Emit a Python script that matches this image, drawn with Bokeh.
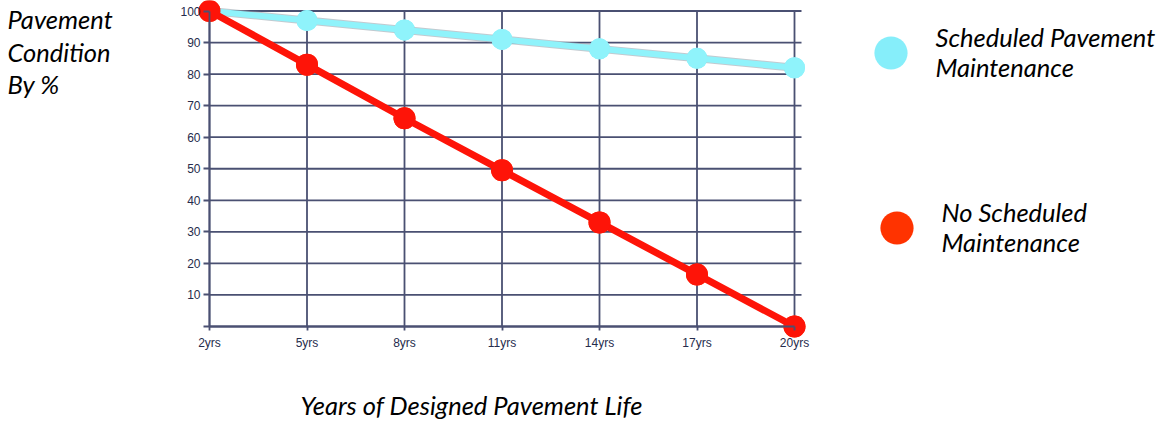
from bokeh.plotting import figure
from bokeh.models import Range1d, LinearAxis, FixedTicker, Label, Legend, LegendItem
from bokeh.embed import file_html
from bokeh.resources import INLINE

# ---- data ----
years = [2, 5, 8, 11, 14, 17, 20]
year_labels = ["2yrs", "5yrs", "8yrs", "11yrs", "14yrs", "17yrs", "20yrs"]
scheduled = [100, 97, 94, 91, 88, 85, 82]
no_scheduled = [100, 83, 66, 49.5, 33, 16.5, 0]
y_ticks = [0, 10, 20, 30, 40, 50, 60, 70, 80, 90, 100]
series_names = ["Scheduled Pavement\nMaintenance", "No Scheduled\nMaintenance"]
y_title = "Pavement\nCondition\nBy %"
x_title = "Years of Designed Pavement Life"

# ---- layout (figure pixels) ----
W, H = 1169, 422
FL, FR, FT, FB = 0, W, 0, H                 # frame box = whole figure
X_A, X_B = 209.0, 794.0                     # pixel of first / last year
Y_A, Y_B = 326.0, 10.5                      # pixel of y=0 / y=100
x0v, x1v = years[0], years[-1]
y0v, y1v = y_ticks[0], y_ticks[-1]
kx = (X_B - X_A) / (x1v - x0v)
ky = (Y_A - Y_B) / (y1v - y0v)
x_lo = x0v - (X_A - FL) / kx
x_hi = x1v + (FR - X_B) / kx
y_lo = y0v - (FB - Y_A) / ky
y_hi = y1v + (Y_B - FT) / ky


def fx(px):
    return x0v + (px - X_A) / kx


def fy(py):
    return y0v + (Y_A - py) / ky


GRID = "#4a5072"
TICK_TXT = "#262c4c"
CYAN = "#8ff3fb"
RED = "#fe1408"
FONT = "Lato"
FSIZE = "25.5px"

p = figure(width=W, height=H, x_range=Range1d(x_lo, x_hi), y_range=Range1d(y_lo, y_hi),
           output_backend="svg", toolbar_location=None,
           x_axis_type=None, y_axis_type=None,
           min_border_left=0, min_border_right=0, min_border_top=0, min_border_bottom=0)
p.outline_line_color = None
p.background_fill_color = "white"
p.border_fill_color = "white"

# grid lines from tick lists
grid_right = x1v + 7 / kx
p.segment(x0=years, y0=[y0v] * len(years), x1=years, y1=[y1v] * len(years),
          line_color=GRID, line_width=1.8)
p.segment(x0=[x0v] * len(y_ticks), y0=y_ticks, x1=[grid_right] * len(y_ticks), y1=y_ticks,
          line_color=GRID, line_width=1.8)

# axes
yaxis = LinearAxis(ticker=FixedTicker(ticks=y_ticks), fixed_location=x0v, bounds=(y0v, y1v),
                   major_label_overrides={0: ""})
yaxis.axis_line_color = GRID
yaxis.axis_line_width = 1.8
yaxis.major_tick_line_color = GRID
yaxis.major_tick_line_width = 1.8
yaxis.major_tick_in = 0
yaxis.major_tick_out = 6
yaxis.minor_tick_line_color = None
yaxis.major_label_standoff = 3
yaxis.major_label_text_font = "Liberation Sans"
yaxis.major_label_text_font_size = "12px"
yaxis.major_label_text_color = TICK_TXT
p.add_layout(yaxis, "left")

xaxis = LinearAxis(ticker=FixedTicker(ticks=years), fixed_location=y0v, bounds=(x0v, x1v),
                   major_label_overrides={y: l for y, l in zip(years, year_labels)})
xaxis.axis_line_color = GRID
xaxis.axis_line_width = 1.8
xaxis.major_tick_line_color = GRID
xaxis.major_tick_line_width = 1.8
xaxis.major_tick_in = 0
xaxis.major_tick_out = 4
xaxis.minor_tick_line_color = None
xaxis.major_label_standoff = 5
xaxis.major_label_text_font = "Liberation Sans"
xaxis.major_label_text_font_size = "12px"
xaxis.major_label_text_color = TICK_TXT
p.add_layout(xaxis, "below")

# legend renderers (hidden under the data markers)
leg_c = p.scatter(years, scheduled, size=21, fill_color="#86eefa", line_color=None)
leg_r = p.scatter(years, no_scheduled, size=22, fill_color="#ff3300", line_color=None)

# series
p.line(years, scheduled, line_color="#9aa6b0", line_width=8, line_alpha=0.6)
p.line(years, scheduled, line_color=CYAN, line_width=6)
p.scatter(years, scheduled, size=21, fill_color=CYAN, line_color=None)
p.line(years, no_scheduled, line_color=RED, line_width=7)
p.scatter(years, no_scheduled, size=22, fill_color=RED, line_color=None)


def make_legend(name, rend, cx, cy):
    g = 83
    loc = (cx - g / 2 - FL, FB - (cy + g / 2))
    lg = Legend(items=[LegendItem(label=name, renderers=[rend])], location=loc,
                glyph_width=g, glyph_height=g, label_standoff=4, padding=0, margin=0,
                spacing=0, border_line_color=None, background_fill_alpha=0,
                label_text_font=FONT, label_text_font_style="italic",
                label_text_font_size=FSIZE, label_text_color="black",
                label_text_line_height=1.1)
    p.add_layout(lg, "center")


make_legend(series_names[0], leg_c, 890, 52)
make_legend(series_names[1], leg_r, 896, 227)

# titles
p.add_layout(Label(x=fx(7), y=fy(3.5), text=y_title, text_font=FONT, text_font_style="italic",
                   text_font_size=FSIZE, text_color="black", text_baseline="top",
                   text_align="left", text_line_height=1.09))
p.add_layout(Label(x=fx(471), y=fy(404), text=x_title, text_font=FONT, text_font_style="italic",
                   text_font_size=FSIZE, text_color="black", text_baseline="middle",
                   text_align="center"))

open("out.html", "w").write(file_html(p, INLINE))
